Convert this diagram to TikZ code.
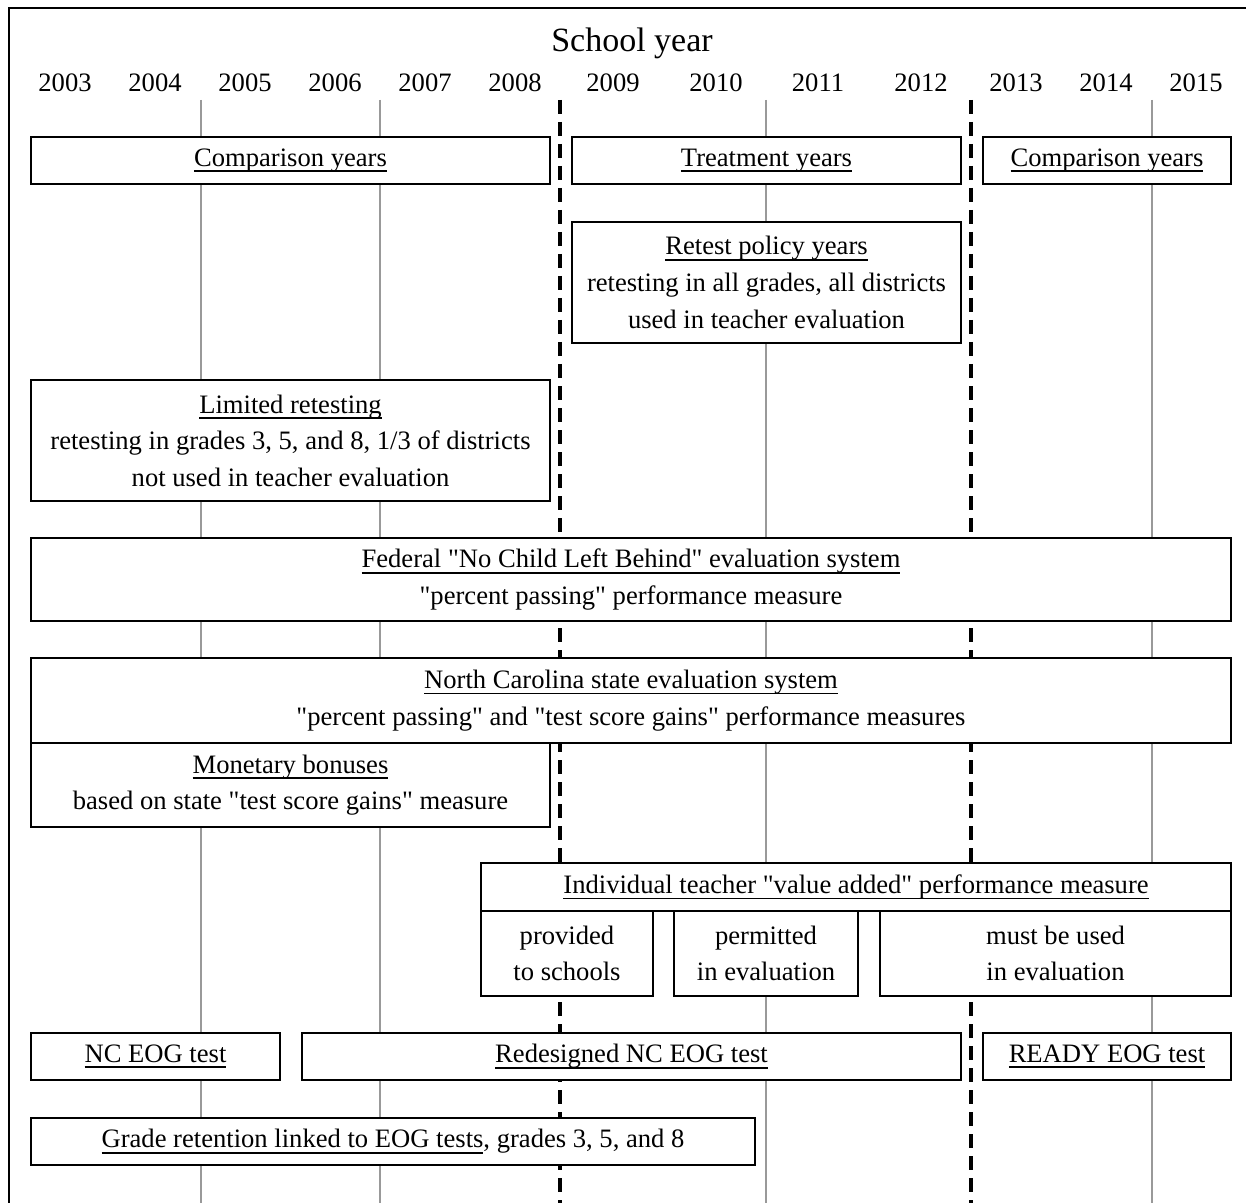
\documentclass[tikz,border=0pt]{standalone}
\usepackage{fontspec}
\newfontfamily\timesfont{Liberation Serif}
\usepackage{tikz}
\definecolor{gridgray}{gray}{0.6}

\newsavebox\ulbox
\newcommand{\ulx}[1]{\sbox\ulbox{#1}\rlap{\rule[-2.95pt]{\wd\ulbox}{0.9pt}}\usebox\ulbox}

\tikzset{
	period/.style={draw, fill=white, line width=1.1pt, inner sep=0pt, align=center},
	yearline/.style={gridgray, line width=0.9pt},
	splitline/.style={black, line width=1.8pt, dash pattern=on 7pt off 4pt},
}

\begin{document}
\begin{tikzpicture}[x=0.5pt, y=-0.5pt, font=\timesfont\fontsize{13.3}{18.3}\selectfont]
			\def\px{0.5pt}

			\useasboundingbox (0,0) rectangle (1246,1203);

			\foreach \x in {201,380,766,1152}
				\draw[yearline] (\x,100) -- (\x,1203);
			\foreach \x in {560,971}
				\draw[splitline] (\x,100) -- (\x,1203);

			\draw[line width=1.3pt] (9,1203) -- (9,8) -- (1246,8);

			\node[anchor=base, font=\timesfont\fontsize{17}{20}\selectfont] (title) at (632,52) {School year};
			\foreach \yr/\x in {2003/65, 2004/155, 2005/245, 2006/335, 2007/425, 2008/515, 2009/613,
					2010/716, 2011/818, 2012/921, 2013/1016, 2014/1106, 2015/1196}
				\node[anchor=base] (y\yr) at (\x,92) {\yr};

			\node[period, minimum width=519*\px, minimum height=47*\px] (cmpA) at (290.5,160.5) {\ulx{Comparison years}};
			\node[period, minimum width=389*\px, minimum height=47*\px] (treat) at (766.5,160.5) {\ulx{Treatment years}};
			\node[period, minimum width=248*\px, minimum height=47*\px] (cmpB) at (1107,160.5) {\ulx{Comparison years}};

			\node[period, minimum width=389*\px, minimum height=121*\px] (retest) at (766.5,282.5)
				{\ulx{Retest policy years}\\ retesting in all grades, all districts\\ used in teacher evaluation};
			\node[period, minimum width=519*\px, minimum height=121*\px] (limited) at (290.5,440.5)
				{\ulx{Limited retesting}\\ retesting in grades 3, 5, and 8, 1/3 of districts\\ not used in teacher evaluation};

			\node[period, minimum width=1200*\px, minimum height=83*\px] (federal) at (631,579.5)
				{\ulx{Federal "No Child Left Behind" evaluation system}\\ "percent passing" performance measure};
			\node[period, minimum width=1200*\px, minimum height=85*\px] (ncstate) at (631,700.5)
				{\ulx{North Carolina state evaluation system}\\ "percent passing" and "test score gains" performance measures};
			\node[period, minimum width=519*\px, minimum height=84*\px] (bonus) at (290.5,785)
				{\ulx{Monetary bonuses}\\ based on state "test score gains" measure};

			\node[period, minimum width=750*\px, minimum height=48*\px] (vadd) at (856,887)
				{\ulx{Individual teacher "value added" performance measure}};
			\node[period, minimum width=172*\px, minimum height=85*\px] (vprov) at (567,953.5) {provided\\ to schools};
			\node[period, minimum width=184*\px, minimum height=85*\px] (vperm) at (766,953.5) {permitted\\ in evaluation};
			\node[period, minimum width=351*\px, minimum height=85*\px] (vmust) at (1055.5,953.5) {must be used\\ in evaluation};

			\node[period, minimum width=249*\px, minimum height=47*\px] (eogA) at (155.5,1056.5) {\ulx{NC EOG test}};
			\node[period, minimum width=659*\px, minimum height=47*\px] (eogB) at (631.5,1056.5) {\ulx{Redesigned NC EOG test}};
			\node[period, minimum width=248*\px, minimum height=47*\px] (eogC) at (1107,1056.5) {\ulx{READY EOG test}};

			\node[period, minimum width=724*\px, minimum height=47*\px] (retain) at (393,1141.5)
				{\ulx{Grade retention linked to EOG tests}, grades 3, 5, and 8};

		\end{tikzpicture}
\end{document}
